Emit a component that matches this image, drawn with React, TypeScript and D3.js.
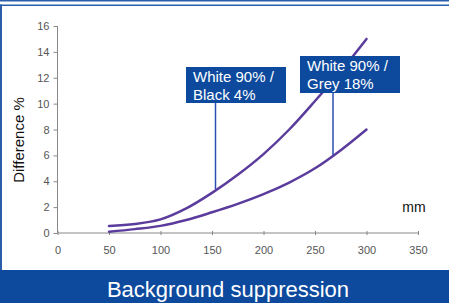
import { useEffect, useRef } from 'react'
import * as d3 from 'd3'

// distance in mm
const distances = [50, 75, 100, 125, 150, 175, 200, 225, 250, 275, 300]
// difference % for each target pair
const blackSeries = [0.55, 0.7, 1.05, 1.9, 3.1, 4.5, 6.1, 8.0, 10.2, 12.5, 15.0]
const greySeries = [0.1, 0.3, 0.55, 1.0, 1.6, 2.25, 3.0, 3.9, 5.0, 6.4, 8.0]
const xTicks = [0, 50, 100, 150, 200, 250, 300, 350]
const yTicks = [0, 2, 4, 6, 8, 10, 12, 14, 16]

const labels = [
  { lines: ['White 90% /', 'Black 4%'], at: 154, series: blackSeries },
  { lines: ['White 90% /', 'Grey 18%'], at: 267, series: greySeries },
]

export default function App() {
  const svgRef = useRef<SVGSVGElement>(null)
  const width = 449
  const height = 303

  useEffect(() => {
    if (!svgRef.current) return
    const svg = d3.select(svgRef.current)
    svg.selectAll('*').remove()

    const font = '"Liberation Sans", Arial, sans-serif'
    const blue = '#0d4a9e'

    const x = d3.scaleLinear().domain([0, 350]).range([57.5, 418])
    const y = d3.scaleLinear().domain([0, 16]).range([233, 26])

    svg.append('rect').attr('width', width).attr('height', height).attr('fill', '#fff')

    // frame lines
    svg.append('rect').attr('x', 0).attr('y', 0).attr('width', width).attr('height', 1.5).attr('fill', '#2a5eaa')
    svg.append('rect').attr('x', 0).attr('y', 4.5).attr('width', width).attr('height', 1.5).attr('fill', '#2a5eaa')
    svg.append('rect').attr('x', 0).attr('y', 4.5).attr('width', 2).attr('height', 266).attr('fill', '#2a5eaa')

    // y axis
    const yAxis = svg.append('g')
      .attr('transform', `translate(${x(0)},0)`)
      .call(d3.axisLeft(y).tickValues(yTicks).tickSize(4).tickPadding(4))
    yAxis.select('.domain').attr('stroke', '#888').attr('d', `M0,${y(16)}V${y(0)}`)
    yAxis.selectAll('.tick line').attr('stroke', '#888')
    yAxis.selectAll('.tick text').attr('fill', '#555').style('font', `11px ${font}`)

    // x axis
    const xAxis = svg.append('g')
      .attr('transform', `translate(0,${y(0)})`)
      .call(d3.axisBottom(x).tickValues(xTicks).tickSize(3).tickPadding(10))
    xAxis.select('.domain').attr('stroke', '#888').attr('d', `M${x(0)},0H${x(350)}`)
    xAxis.selectAll('.tick line').attr('stroke', '#888').attr('y1', -2).attr('y2', 2)
    xAxis.selectAll('.tick text').attr('fill', '#555').style('font', `11px ${font}`)

    // axis titles
    svg.append('text')
      .attr('transform', `translate(24,140) rotate(-90)`)
      .attr('text-anchor', 'middle')
      .style('font', `15px ${font}`)
      .attr('fill', '#111')
      .text('Difference %')
    svg.append('text')
      .attr('x', 414).attr('y', 212)
      .attr('text-anchor', 'middle')
      .style('font', `14px ${font}`)
      .attr('fill', '#111')
      .text('mm')

    // curves
    const line = d3.line<number>()
      .x((_, i) => x(distances[i]))
      .y(d => y(d))
      .curve(d3.curveCatmullRom)
    for (const s of [blackSeries, greySeries]) {
      svg.append('path')
        .attr('d', line(s))
        .attr('fill', 'none')
        .attr('stroke', '#5b3c9c')
        .attr('stroke-width', 2.5)
        .attr('stroke-linecap', 'round')
    }

    // annotation boxes
    const boxes = [
      { x: 186, y: 67, w: 100, h: 36, lx: 215.5 },
      { x: 300, y: 56, w: 100, h: 37, lx: 333 },
    ]
    labels.forEach((lab, i) => {
      const b = boxes[i]
      const idx = d3.bisectLeft(distances, lab.at)
      const t = (lab.at - distances[idx - 1]) / (distances[idx] - distances[idx - 1])
      const v = lab.series[idx - 1] * (1 - t) + lab.series[idx] * t
      svg.append('line')
        .attr('x1', b.lx).attr('x2', b.lx)
        .attr('y1', b.y + b.h).attr('y2', y(v) - 1)
        .attr('stroke', '#2b4fb0').attr('stroke-width', 1.5)
      svg.append('rect')
        .attr('x', b.x).attr('y', b.y).attr('width', b.w).attr('height', b.h)
        .attr('fill', blue)
      lab.lines.forEach((l, j) => {
        svg.append('text')
          .attr('x', b.x + 7).attr('y', b.y + 15 + j * 18)
          .style('font', `15px ${font}`)
          .attr('fill', '#fff')
          .text(l)
      })
    })

    // bottom banner
    svg.append('rect').attr('x', 0).attr('y', 270).attr('width', width).attr('height', 33).attr('fill', blue)
    svg.append('text')
      .attr('x', 228).attr('y', 297)
      .attr('text-anchor', 'middle')
      .style('font', `22px ${font}`)
      .attr('fill', '#fff')
      .text('Background suppression')

    return () => {
      svg.selectAll('*').remove()
    }
  }, [])

  return (
    <svg
      ref={svgRef}
      width={width}
      height={height}
      style={{ position: 'absolute', left: 0, top: 0, display: 'block' }}
    />
  )
}
